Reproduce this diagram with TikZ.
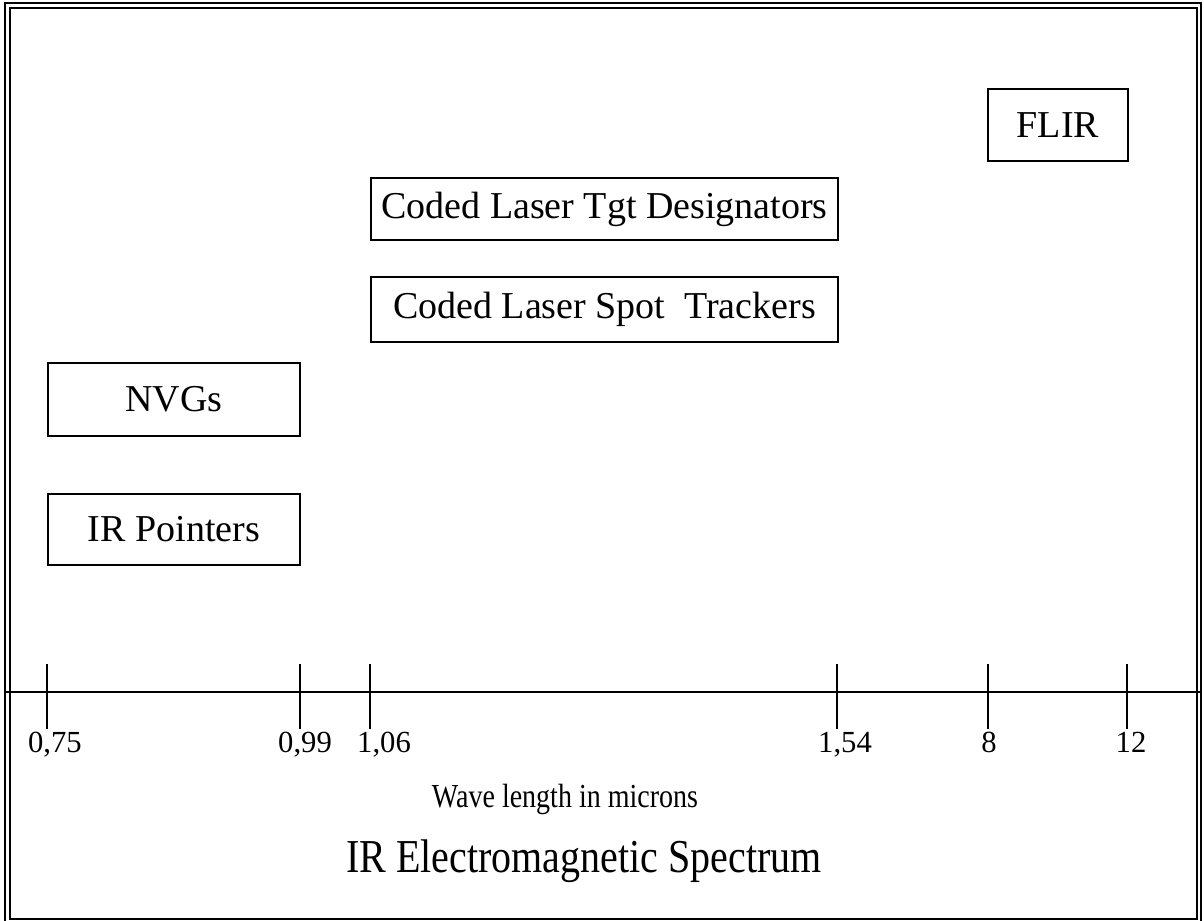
\documentclass[tikz,border=0pt]{standalone}
\usepackage{graphicx}
\usepackage{fontspec}
\setmainfont{Liberation Serif}

\begin{document}
\begin{tikzpicture}[x=0.75pt,y=0.75pt,yscale=-1,xscale=1,
  band/.style={draw, line width=1.5pt, inner sep=0pt, font=\fontsize{28.5}{34}\selectfont},
  wl/.style={anchor=base, inner sep=0pt, font=\fontsize{23}{27}\selectfont},
  tickmark/.style={line width=2pt}]
\useasboundingbox (0,0) rectangle (1204,921);

%Shape: Double frame
\draw [line width=1.5pt] (5,3) rectangle (1201,924) ;
\draw [line width=1.5pt] (10,8) rectangle (1197,919) ;

%Shape: Rectangles (devices)
\node [band, minimum width=140*0.75pt, minimum height=72*0.75pt] (flir) at (1058,125) {FLIR};
\node [band, minimum width=467*0.75pt, minimum height=62*0.75pt] (designators) at (604.5,209) {Coded Laser Tgt Designators};
\node [band, minimum width=467*0.75pt, minimum height=65*0.75pt] (trackers) at (604.5,309.5) {Coded Laser Spot\ \ Trackers};
\node [band, minimum width=252*0.75pt, minimum height=73*0.75pt] (nvgs) at (174,399.5) {NVGs};
\node [band, minimum width=252*0.75pt, minimum height=71*0.75pt] (pointers) at (174,529.5) {IR Pointers};

%Straight Lines: axis
\coordinate (axisL) at (5,692);
\coordinate (axisR) at (1201,692);
\draw [tickmark] (axisL) -- (axisR) ;

%Straight Lines: ticks
\foreach \tx/\tn in {47/t075, 300/t099, 370/t106, 837/t154, 988/t8, 1127/t12}{
  \coordinate (\tn top) at (\tx,664);
  \coordinate (\tn bot) at (\tx,729);
  \draw [tickmark] (\tn top) -- (\tn bot) ;
}

% Text Node
\node [wl] (l075) at (55,752) {0,75};
\node [wl] (l099) at (305,752) {0,99};
\node [wl] (l106) at (384,752) {1,06};
\node [wl] (l154) at (845,752) {1,54};
\node [wl] (l8) at (989,752) {8};
\node [wl] (l12) at (1131,752) {12};

% Text Node
\node [anchor=base, inner sep=0pt, font=\fontsize{21}{25}\selectfont] (unit) at (565,807) {\scalebox{1}[1.2]{Wave length in microns}};
\node [anchor=base, inner sep=0pt, font=\fontsize{30}{36}\selectfont] (title) at (584,872) {\scalebox{1}[1.18]{IR Electromagnetic Spectrum}};

\end{tikzpicture}
\end{document}
